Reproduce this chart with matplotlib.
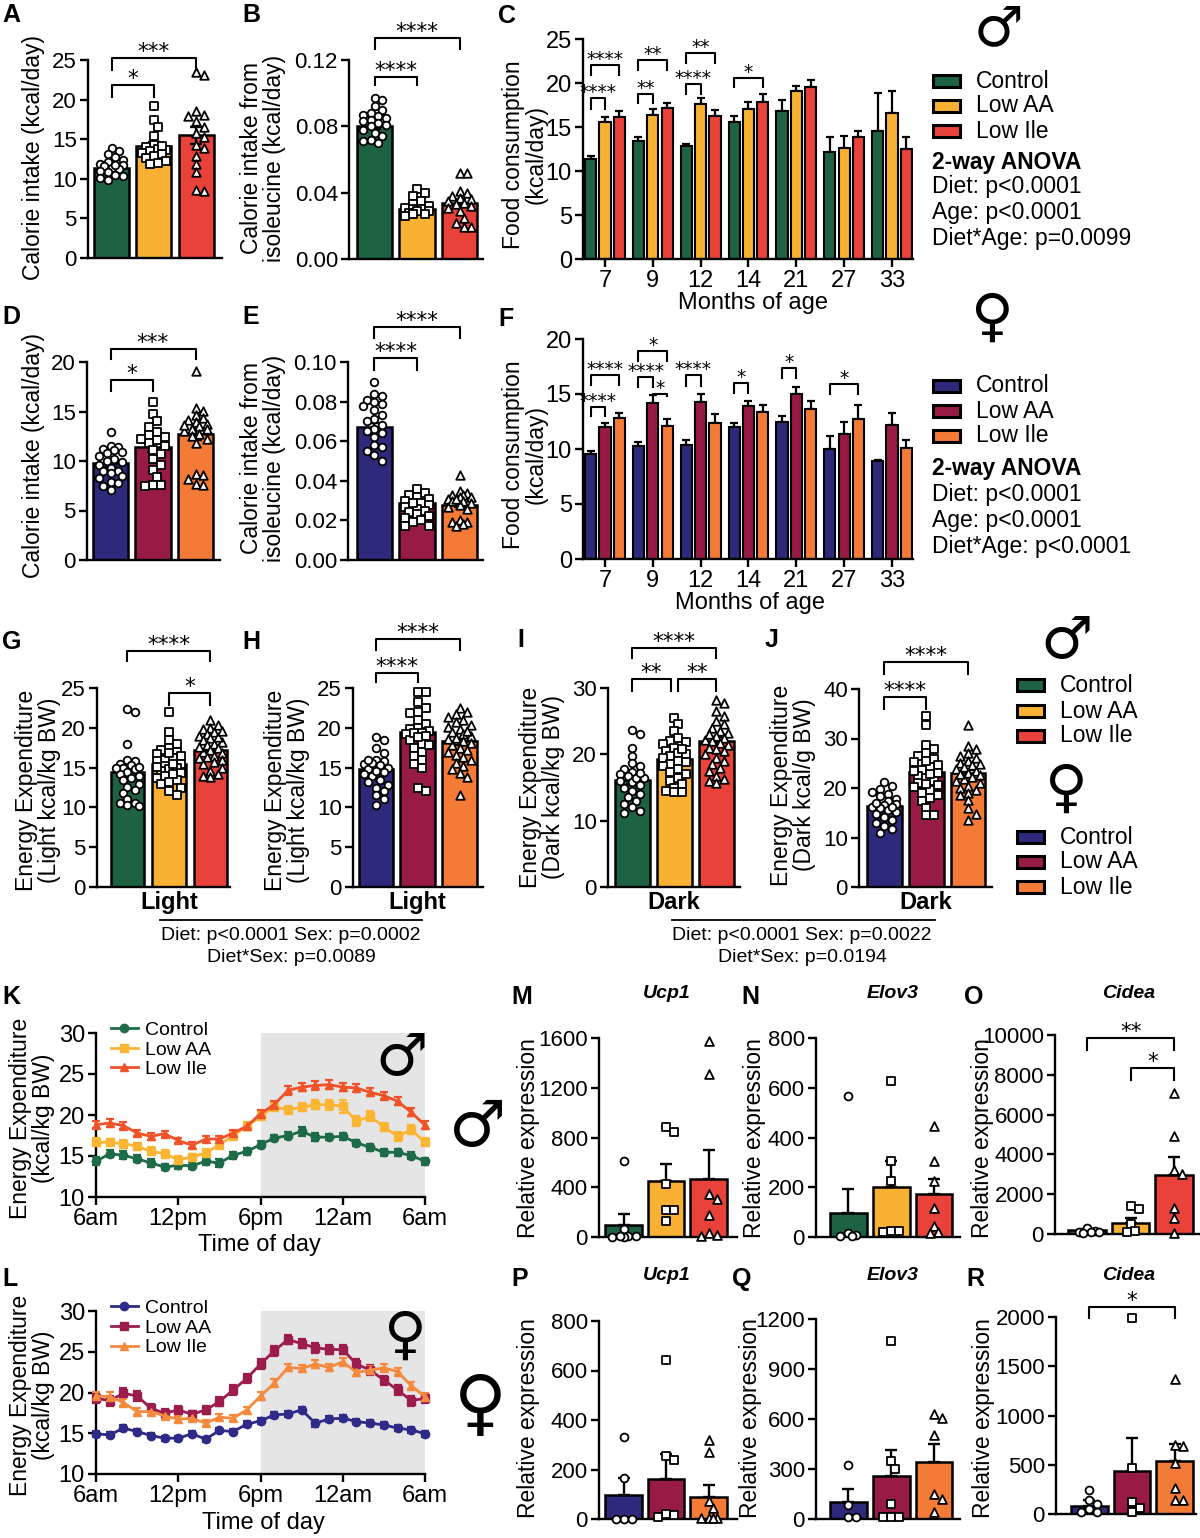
import numpy as np
import matplotlib
matplotlib.use('Agg')
import matplotlib.pyplot as plt
from matplotlib.lines import Line2D
from matplotlib.patches import Rectangle
import matplotlib.transforms as mtransforms

# ---------------- DATA ----------------
diets = ['Control', 'Low AA', 'Low Ile']
male_colors = ['#1D6341', '#F8B133', '#E8423A']
female_colors = ['#2D2A7B', '#981B45', '#F47B37']

# A: calorie intake, males
A_means = [11.4, 14.1, 15.5]
A_err = [0.35, 0.55, 1.1]
A_ctrl = [13.9, 13.5, 13.1, 12.7, 12.4, 12.1, 11.9, 11.7, 11.6, 11.4, 11.2, 11.0, 10.8, 10.5, 10.3, 10.1, 9.9, 11.8]
A_aa = [19.2, 17.4, 16.6, 15.4, 14.3, 14.0, 13.8, 13.6, 13.5, 13.3, 13.1, 12.9, 12.6, 12.3, 12.0, 11.9, 14.1]
A_ile = [23.5, 23.1, 18.6, 18.0, 17.9, 17.3, 16.6, 15.8, 15.3, 14.3, 13.9, 12.9, 11.9, 10.9, 8.6, 8.5]

# B: calorie intake from isoleucine, males
B_means = [0.080, 0.030, 0.034]
B_err = [0.0018, 0.001, 0.002]
B_ctrl = [0.097, 0.096, 0.092, 0.090, 0.088, 0.087, 0.086, 0.085, 0.084, 0.083, 0.082, 0.081, 0.080, 0.078, 0.076, 0.074, 0.072, 0.071, 0.070]
B_aa = [0.042, 0.040, 0.038, 0.035, 0.033, 0.032, 0.031, 0.030, 0.030, 0.029, 0.029, 0.028, 0.027, 0.027, 0.026]
B_ile = [0.052, 0.052, 0.041, 0.040, 0.038, 0.037, 0.036, 0.035, 0.034, 0.033, 0.032, 0.031, 0.029, 0.025, 0.022, 0.019, 0.019]

# C / F: food consumption by age
ages = ['7', '9', '12', '14', '21', '27', '33']
C_ctrl = [11.4, 13.4, 12.8, 15.6, 16.8, 12.2, 14.6]
C_ctrl_err = [0.3, 0.5, 0.3, 0.7, 1.3, 1.7, 4.3]
C_aa = [15.6, 16.4, 17.65, 17.0, 19.1, 12.65, 16.6]
C_aa_err = [0.5, 0.6, 0.65, 0.8, 0.6, 1.35, 2.5]
C_ile = [16.1, 17.2, 16.25, 17.8, 19.6, 13.9, 12.5]
C_ile_err = [0.7, 0.5, 0.65, 1.0, 0.7, 0.7, 1.4]

F_ctrl = [9.55, 10.24, 10.4, 11.97, 12.45, 10.0, 8.9]
F_ctrl_err = [0.3, 0.36, 0.45, 0.43, 0.55, 1.15, 0.13]
F_aa = [11.97, 14.2, 14.3, 13.9, 15.0, 11.4, 12.2]
F_aa_err = [0.43, 0.7, 0.7, 0.5, 0.6, 1.05, 1.1]
F_ile = [12.8, 12.1, 12.4, 13.4, 13.6, 12.75, 10.1]
F_ile_err = [0.5, 0.6, 0.8, 0.6, 0.8, 1.25, 0.7]

# D: calorie intake, females
D_means = [9.75, 11.4, 12.7]
D_err = [0.4, 0.5, 0.6]
D_ctrl = [12.9, 11.5, 11.4, 11.2, 11.1, 10.8, 10.5, 10.2, 10.0, 9.9, 9.6, 9.3, 9.0, 8.8, 8.5, 8.3, 7.9, 7.8, 7.5, 7.1, 9.0, 10.9]
D_aa = [16.0, 14.7, 14.0, 13.4, 12.9, 12.6, 12.4, 12.1, 11.8, 11.5, 11.1, 10.7, 10.2, 9.6, 9.1, 8.4, 7.6, 7.5, 7.6, 12.2]
D_ile = [19.1, 15.4, 15.1, 14.6, 14.3, 14.1, 13.9, 13.7, 13.5, 13.2, 13.0, 12.7, 12.5, 12.2, 11.8, 8.7, 8.6, 8.2, 7.7, 7.6, 13.6, 13.2]

# E: calorie intake from isoleucine, females
E_means = [0.0672, 0.029, 0.028]
E_err = [0.002, 0.0012, 0.001]
E_ctrl = [0.090, 0.084, 0.083, 0.081, 0.080, 0.079, 0.078, 0.076, 0.073, 0.071, 0.070, 0.068, 0.066, 0.065, 0.064, 0.062, 0.058, 0.057, 0.055, 0.053, 0.050]
E_aa = [0.036, 0.034, 0.033, 0.032, 0.031, 0.030, 0.029, 0.028, 0.027, 0.026, 0.025, 0.024, 0.023, 0.022, 0.021, 0.020, 0.019, 0.017, 0.017, 0.029]
E_ile = [0.043, 0.035, 0.034, 0.033, 0.033, 0.032, 0.032, 0.031, 0.030, 0.030, 0.029, 0.028, 0.027, 0.026, 0.020, 0.019, 0.019, 0.018, 0.017, 0.031]

# G-J: energy expenditure
G_means = [14.4, 15.5, 17.2]
G_err = [0.6, 0.4, 0.35]
G_ctrl = [22.3, 22.0, 18.0, 16.0, 15.8, 15.5, 15.3, 15.0, 14.8, 14.5, 14.2, 14.0, 13.7, 13.4, 13.0, 12.6, 12.2, 11.8, 11.0, 10.6, 10.5, 10.3, 10.2, 15.1, 14.9]
G_aa = [22.0, 19.5, 18.5, 18.0, 17.5, 17.2, 17.0, 16.7, 16.5, 16.2, 16.0, 15.8, 15.5, 15.2, 15.0, 14.8, 14.6, 14.3, 14.0, 13.7, 13.4, 13.0, 12.5, 12.0, 11.5, 15.4, 16.8, 15.1, 14.2, 13.2]
G_ile = [21.0, 20.4, 20.0, 19.8, 19.5, 19.2, 19.0, 18.7, 18.5, 18.2, 18.0, 17.8, 17.5, 17.2, 17.0, 16.8, 16.5, 16.2, 16.0, 15.7, 15.4, 15.0, 14.6, 14.2, 13.8, 14.0, 17.6, 18.8, 19.6, 16.3]

H_means = [14.8, 19.5, 18.3]
H_err = [0.45, 0.6, 0.45]
H_ctrl = [18.9, 18.5, 17.5, 16.8, 16.0, 15.8, 15.5, 15.3, 15.0, 14.8, 14.5, 14.2, 14.0, 13.5, 13.2, 12.8, 12.5, 12.0, 11.5, 11.0, 10.3, 15.6, 15.9, 14.6]
H_aa = [24.5, 24.5, 23.2, 22.5, 21.8, 21.0, 20.5, 20.0, 19.8, 19.6, 19.4, 19.2, 19.0, 18.5, 18.0, 17.5, 17.0, 16.5, 16.0, 15.5, 15.0, 12.5, 12.1, 19.3, 18.8, 17.8, 22.0]
H_ile = [22.5, 22.0, 21.7, 21.3, 21.0, 20.7, 20.4, 20.1, 19.8, 19.5, 19.2, 19.0, 18.7, 18.4, 18.1, 17.8, 17.5, 17.2, 16.9, 16.6, 16.3, 16.0, 15.6, 15.2, 14.8, 14.3, 13.8, 11.6, 19.6, 18.6]

I_means = [16.2, 19.3, 22.0]
I_err = [0.6, 0.5, 0.6]
I_ctrl = [23.6, 23.0, 21.0, 19.8, 18.7, 18.3, 17.8, 17.3, 17.0, 16.7, 16.4, 16.0, 15.8, 15.4, 15.0, 14.5, 14.0, 13.5, 13.0, 12.5, 12.0, 11.5, 11.2, 16.5, 17.2]
I_aa = [25.5, 24.5, 23.5, 22.5, 22.0, 21.8, 21.5, 21.0, 20.5, 20.2, 20.0, 19.7, 19.4, 19.0, 18.6, 18.2, 17.8, 17.4, 17.0, 16.5, 16.0, 15.5, 15.0, 14.5, 14.3, 14.3, 20.8, 18.9]
I_ile = [28.2, 27.8, 26.5, 25.8, 25.0, 24.5, 24.0, 23.5, 23.2, 22.8, 22.5, 22.2, 22.0, 21.7, 21.4, 21.0, 20.5, 20.0, 19.5, 19.0, 18.5, 18.0, 17.5, 16.8, 16.0, 15.7, 16.3, 23.0, 20.8]

J_means = [16.3, 23.2, 23.0]
J_err = [0.5, 0.8, 0.7]
J_ctrl = [21.2, 20.4, 19.8, 19.2, 18.8, 18.3, 17.8, 17.3, 16.8, 16.5, 16.2, 16.0, 15.6, 15.2, 14.7, 14.2, 13.6, 13.0, 12.4, 11.7, 11.0, 16.1, 17.0]
J_aa = [34.5, 32.7, 28.6, 27.8, 27.0, 26.4, 25.8, 25.2, 24.7, 24.2, 23.6, 23.0, 22.5, 22.0, 21.5, 21.0, 20.6, 20.2, 19.6, 19.0, 18.5, 18.0, 17.4, 16.0, 14.5, 14.5, 23.4, 25.4, 22.8, 20.8]
J_ile = [32.7, 28.5, 27.9, 27.0, 26.5, 26.0, 25.5, 25.0, 24.6, 24.2, 23.8, 23.4, 23.0, 22.6, 22.2, 21.8, 21.4, 21.0, 20.5, 20.0, 19.5, 19.0, 18.5, 17.5, 16.0, 14.8, 13.5, 24.8, 22.9]

# K / L: energy expenditure over time of day (hours after 6am)
hours = [0, 1, 2, 3, 4, 5, 6, 7, 8, 9, 10, 11, 12, 13, 14, 15, 16, 17, 18, 19, 20, 21, 22, 23, 24]
time_ticks = [0, 6, 12, 18, 24]
time_labels = ['6am', '12pm', '6pm', '12am', '6am']
K_ctrl = [14.35, 15.28, 15.08, 14.67, 14.15, 13.66, 13.86, 13.82, 14.35, 14.15, 15.08, 15.57, 16.38, 17.2, 17.48, 18.0, 17.3, 17.3, 17.4, 16.6, 16.06, 15.45, 15.45, 15.04, 14.35]
K_aa = [16.67, 16.67, 16.5, 16.18, 15.57, 15.28, 14.55, 14.88, 15.37, 16.38, 17.48, 18.62, 19.84, 20.98, 20.65, 20.93, 21.26, 21.26, 21.06, 19.23, 19.84, 18.54, 17.4, 18.2, 16.67]
K_ile = [18.82, 19.02, 18.7, 17.8, 17.4, 17.72, 16.9, 16.3, 17.07, 17.07, 17.8, 18.62, 20.16, 21.26, 23.0, 23.4, 23.6, 23.7, 23.4, 23.3, 22.76, 22.36, 21.67, 20.33, 18.74]
K_ctrl_err = [0.5, 0.4, 0.5, 0.45, 0.45, 0.4, 0.4, 0.45, 0.4, 0.45, 0.4, 0.4, 0.4, 0.4, 0.4, 0.5, 0.45, 0.4, 0.45, 0.4, 0.4, 0.4, 0.4, 0.4, 0.4]
K_aa_err = [0.5, 0.45, 0.45, 0.45, 0.5, 0.45, 0.45, 0.4, 0.45, 0.45, 0.5, 0.5, 0.5, 0.5, 0.45, 0.5, 0.55, 0.6, 0.8, 0.6, 0.6, 0.5, 0.55, 0.55, 0.5]
K_ile_err = [0.45, 0.45, 0.4, 0.4, 0.4, 0.35, 0.35, 0.35, 0.35, 0.35, 0.35, 0.4, 0.45, 0.5, 0.5, 0.5, 0.5, 0.55, 0.5, 0.5, 0.5, 0.45, 0.5, 0.5, 0.5]

L_ctrl = [14.93, 14.8, 15.62, 15.21, 14.72, 14.4, 14.4, 14.93, 14.28, 15.34, 15.21, 16.11, 16.52, 17.25, 17.37, 17.86, 16.23, 16.76, 16.84, 16.44, 16.23, 16.03, 15.62, 15.42, 14.93]
L_aa = [19.29, 19.0, 19.9, 19.57, 18.07, 17.45, 17.86, 17.33, 17.86, 18.88, 20.3, 21.73, 23.48, 25.1, 26.5, 26.0, 25.5, 25.27, 25.27, 23.48, 22.75, 21.53, 20.3, 19.0, 19.29]
L_ile = [19.57, 19.49, 18.76, 17.66, 17.66, 17.13, 16.72, 16.84, 16.23, 16.97, 16.84, 17.86, 19.57, 21.12, 23.08, 22.95, 23.48, 23.08, 23.77, 22.46, 22.75, 23.03, 22.55, 20.83, 19.49]
L_ctrl_err = [0.35, 0.3, 0.4, 0.3, 0.3, 0.3, 0.3, 0.3, 0.3, 0.3, 0.35, 0.35, 0.35, 0.35, 0.35, 0.3, 0.45, 0.35, 0.35, 0.35, 0.35, 0.35, 0.35, 0.35, 0.35]
L_aa_err = [0.6, 0.6, 0.6, 0.6, 0.5, 0.5, 0.5, 0.45, 0.5, 0.55, 0.6, 0.6, 0.6, 0.6, 0.6, 0.6, 0.6, 0.6, 0.6, 0.6, 0.6, 0.55, 0.6, 0.6, 0.55]
L_ile_err = [0.45, 0.6, 0.45, 0.4, 0.4, 0.35, 0.35, 0.35, 0.35, 0.35, 0.35, 0.4, 0.45, 0.5, 0.45, 0.45, 0.5, 0.45, 0.45, 0.45, 0.45, 0.45, 0.45, 0.45, 0.45]

# M-R: relative expression
M_means = [94, 448, 469]; M_err = [91, 142, 228]
M_ctrl = [608, 64, 10, 5, 3, 2, 8]
M_aa = [882, 844, 426, 220, 220, 126]
M_ile = [1573, 1313, 348, 305, 180, 30, 20, 10]
N_means = [96, 201, 173]; N_err = [97, 103, 60]
N_ctrl = [568, 15, 10, 5, 3]
N_aa = [626, 304, 224, 25, 25, 20]
N_ile = [445, 307, 224, 117, 46, 20, 15]
O_means = [180, 536, 2965]; O_err = [60, 284, 921]
O_ctrl = [280, 150, 120, 100, 80, 60]
O_aa = [1424, 1240, 500, 150, 100]
O_ile = [7100, 4925, 3216, 3000, 1290, 787, 50]
P_means = [95, 163, 87]; P_err = [70, 100, 49]
P_ctrl = [331, 165, 2, 2, 2]
P_aa = [643, 253, 239, 20, 10, 15]
P_ile = [320, 270, 71, 44, 5, 5, 5, 5]
Q_means = [102, 260, 340]; Q_err = [78, 152, 112]
Q_ctrl = [322, 86, 10, 10]
Q_aa = [1070, 346, 302, 92, 10, 10, 10]
Q_ile = [632, 606, 506, 150, 120, 40]
R_means = [84, 441, 540]; R_err = [54, 328, 168]
R_ctrl = [246, 140, 100, 50, 20, 20]
R_aa = [1993, 465, 121, 60, 20]
R_ile = [1375, 701, 690, 516, 263, 138, 138]

# ---------------- FIGURE ----------------
plt.rcParams['font.family'] = ['Liberation Sans', 'DejaVu Sans']
W, H = 1200, 1538
fig = plt.figure(figsize=(W / 100, H / 100), dpi=100)
TICK = 16
LAB = 16.5
STAR = 15.5


def add_ax(box):
    l, t, r, b = box
    return fig.add_axes([l / W, 1 - b / H, (r - l) / W, (b - t) / H])


def ftext(x, y, s, **kw):
    return fig.text(x / W, 1 - y / H, s, **kw)


def style(ax, fs=TICK):
    ax.spines['top'].set_visible(False)
    ax.spines['right'].set_visible(False)
    for s in ('left', 'bottom'):
        ax.spines[s].set_linewidth(1.7)
    ax.tick_params(width=1.7, length=6, labelsize=fs, pad=2, direction='out')
    ax.patch.set_alpha(0)


def bracket(ax, x1, x2, y, yb, s, fs=STAR):
    ax.plot([x1, x1, x2, x2], [yb, y, y, yb], color='black', lw=1.5,
            clip_on=False, zorder=6)
    ax.text((x1 + x2) / 2, y, s, ha='center', va='baseline', fontsize=fs,
            family='DejaVu Sans', clip_on=False)


def swarm_x(vals, xc, ppx, ppy, halfw, d):
    order = np.argsort(-np.asarray(vals), kind='stable')
    placed = []
    out = [0.0] * len(vals)
    step = d / 2
    n = max(int(halfw // step), 0)
    cands = [0.0]
    for k in range(1, n + 1):
        cands += [k * step, -k * step]
    for i in order:
        y = vals[i] * ppy
        chosen, best, bestd = None, 0.0, -1
        for c in cands:
            md = min([np.hypot(c - a, y - b) for a, b in placed], default=1e9)
            if md >= d * 0.92:
                chosen = c
                break
            if md > bestd:
                bestd, best = md, c
        if chosen is None:
            chosen = best
        placed.append((chosen, y))
        out[i] = xc + chosen / ppx
    return out


def bar_panel(box, xlim, ylim, yticks, means, errs, pts, colors, width=0.83,
              fmt=None, sym=True, msize=30, d=7.8):
    ax = add_ax(box)
    style(ax)
    l, t, r, b = box
    xs = np.arange(len(means))
    ax.bar(xs, means, width=width, color=colors, edgecolor='black', linewidth=1.8, zorder=2)
    yerr = errs if sym else [[0] * len(errs), errs]
    ax.errorbar(xs, means, yerr=yerr, fmt='none', ecolor='black', elinewidth=1.7,
                capsize=4, capthick=1.7, zorder=3)
    ppx = (r - l) / (xlim[1] - xlim[0])
    ppy = (b - t) / (ylim[1] - ylim[0])
    for i, (vals, m, sc) in enumerate(zip(pts, ['o', 's', '^'], [1.0, 0.9, 1.25])):
        xx = swarm_x(vals, i, ppx, ppy, width * ppx / 2 - 3, d)
        ax.scatter(xx, vals, marker=m, s=msize * sc, facecolor='white', edgecolor='black',
                   linewidths=1.3, zorder=5, clip_on=False)
    ax.set_xlim(*xlim)
    ax.set_ylim(*ylim)
    ax.set_yticks(yticks)
    if fmt:
        ax.set_yticklabels([fmt.format(v) for v in yticks])
    ax.set_xticks([])
    return ax


def grouped_panel(box, xlim, ylim, yticks, series, errs, colors):
    ax = add_ax(box)
    style(ax, 17)
    g = np.arange(len(ages))
    offs = [-0.3, 0.0, 0.3]
    for s, e, c, o in zip(series, errs, colors, offs):
        ax.bar(g + o, s, width=0.235, color=c, edgecolor='black', linewidth=1.5, zorder=2)
        ax.errorbar(g + o, s, yerr=[[0] * len(e), e], fmt='none', ecolor='black',
                    elinewidth=1.6, capsize=3.2, capthick=1.6, zorder=1)
    ax.set_xlim(*xlim)
    ax.set_ylim(*ylim)
    ax.set_yticks(yticks)
    ax.set_xticks(g)
    ax.set_xticklabels(ages)
    return ax


def time_panel(box, series, errs, colors, labels):
    ax = add_ax(box)
    style(ax, 17)
    ax.axvspan(12, 24, color='#E5E5E5', zorder=0, lw=0)
    handles = []
    for s, e, c, m, lab in zip(series, errs, colors, ['o', 's', '^'], labels):
        ax.errorbar(hours, s, yerr=e, color=c, marker=m, ms=6, lw=2.0, elinewidth=1.6,
                    capsize=3, capthick=1.6, zorder=3, clip_on=False)
        handles.append(Line2D([], [], color=c, marker=m, ms=6, lw=2.0))
    ax.set_xlim(0, 24)
    ax.set_ylim(10, 30)
    ax.set_yticks([10, 15, 20, 25, 30])
    ax.set_xticks(time_ticks)
    ax.set_xticklabels(time_labels)
    ax.legend(handles, labels, loc='upper left', bbox_to_anchor=(0.045, 1.07), frameon=False,
              fontsize=14, handlelength=1.4, handletextpad=0.35, labelspacing=0.1,
              borderpad=0, borderaxespad=0)
    return ax


def ylab(x, y, s, fs=LAB):
    ftext(x, y, s, rotation=90, ha='center', va='center', fontsize=fs,
          multialignment='center', linespacing=1.0)


def letter(x, y, s):
    ftext(x, y, s, ha='left', va='top', fontsize=18, fontweight='bold')


def legend_block(xp, xt, ys, colors, fs=16.5):
    for y, c, lab in zip(ys, colors, diets):
        fig.add_artist(Rectangle((xp / W, 1 - (y + 6) / H), 27 / W, 12 / H,
                                 transform=fig.transFigure, facecolor=c,
                                 edgecolor='black', lw=2.2))
        ftext(xt, y, lab, fontsize=fs, va='center', ha='left')


def symbol(x, y, s, size):
    ftext(x, y, s, fontsize=size, ha='center', va='center', family='DejaVu Sans',
          fontweight='bold')


# ---- A ----
ax = bar_panel((88, 60, 222, 258), (-0.556, 2.61), (0, 25), [0, 5, 10, 15, 20, 25],
               A_means, A_err, [A_ctrl, A_aa, A_ile], male_colors)
bracket(ax, 0, 1, 21.8, 20.3, '*')
bracket(ax, 0, 2, 25.25, 23.7, '***')
ylab(34, 157, 'Calorie intake (kcal/day)')
letter(2, 3, 'A')

# ---- B ----
ax = bar_panel((349, 60, 483, 259), (-0.6, 2.55), (0, 0.12), [0, 0.04, 0.08, 0.12],
               B_means, B_err, [B_ctrl, B_aa, B_ile], male_colors, fmt='{:.2f}')
bracket(ax, 0, 1, 0.110, 0.105, '****')
bracket(ax, 0, 2, 0.1335, 0.1264, '****')
ylab(263, 158, 'Calorie intake from\nisoleucine (kcal/day)')
letter(242, 3, 'B')

# ---- C ----
ax = grouped_panel((583, 39, 913, 259), (-0.46, 6.44), (0, 25), [0, 5, 10, 15, 20, 25],
                   [C_ctrl, C_aa, C_ile], [C_ctrl_err, C_aa_err, C_ile_err], male_colors)
for gi, i, j, y, yb, s in [(0, 0, 1, 18.3, 17.1, '****'), (0, 0, 2, 22.0, 20.9, '****'),
                           (1, 0, 1, 18.8, 17.7, '**'), (1, 0, 2, 22.6, 21.5, '**'),
                           (2, 0, 1, 19.9, 18.75, '****'), (2, 0, 2, 23.4, 22.3, '**'),
                           (3, 0, 2, 20.6, 19.5, '*')]:
    offs = [-0.3, 0.0, 0.3]
    bracket(ax, gi + offs[i], gi + offs[j], y, yb, s, fs=13.5)
ylab(525, 155, 'Food consumption\n(kcal/day)')
ftext(753, 303, 'Months of age', ha='center', va='center', fontsize=17)
letter(498, 4, 'C')

# legend C
symbol(998, 30, '\u2642', 40)
legend_block(933, 976, [81, 106, 131], male_colors)
ftext(932, 162, '2-way ANOVA', fontsize=16.5, fontweight='bold', va='center')
ftext(932, 187, 'Diet: p<0.0001', fontsize=16.5, va='center')
ftext(932, 213, 'Age: p<0.0001', fontsize=16.5, va='center')
ftext(932, 239, 'Diet*Age: p=0.0099', fontsize=16.5, va='center')

# ---- D ----
ax = bar_panel((87, 362, 220, 560), (-0.553, 2.576), (0, 20), [0, 5, 10, 15, 20],
               D_means, D_err, [D_ctrl, D_aa, D_ile], female_colors)
bracket(ax, 0, 1, 18.15, 17.1, '*')
bracket(ax, 0, 2, 21.3, 20.3, '***')
ylab(34, 456, 'Calorie intake (kcal/day)')
letter(2, 305, 'D')

# ---- E ----
ax = bar_panel((348, 362, 483, 560), (-0.62, 2.55), (0, 0.10), [0, 0.02, 0.04, 0.06, 0.08, 0.10],
               E_means, E_err, [E_ctrl, E_aa, E_ile], female_colors, fmt='{:.2f}')
bracket(ax, 0, 1, 0.102, 0.096, '****')
bracket(ax, 0, 2, 0.1176, 0.112, '****')
ylab(263, 458, 'Calorie intake from\nisoleucine (kcal/day)')
letter(242, 305, 'E')

# ---- F ----
ax = grouped_panel((583, 339, 913, 559), (-0.46, 6.44), (0, 20), [0, 5, 10, 15, 20],
                   [F_ctrl, F_aa, F_ile], [F_ctrl_err, F_aa_err, F_ile_err], female_colors)
for gi, i, j, y, yb, s in [(0, 0, 1, 13.8, 13.0, '****'), (0, 0, 2, 16.75, 15.85, '****'),
                           (1, 0, 1, 16.55, 15.6, '****'), (1, 1, 2, 15.0, 14.8, '*'),
                           (1, 0, 2, 18.9, 18.0, '*'), (2, 0, 1, 16.7, 15.75, '****'),
                           (3, 0, 1, 16.0, 15.1, '*'), (4, 0, 1, 17.4, 16.5, '*'),
                           (5, 0, 2, 15.9, 15.0, '*')]:
    offs = [-0.3, 0.0, 0.3]
    bracket(ax, gi + offs[i], gi + offs[j], y, yb, s, fs=13.5)
ylab(525, 455, 'Food consumption\n(kcal/day)')
ftext(750, 603, 'Months of age', ha='center', va='center', fontsize=17)
letter(498, 307, 'F')

symbol(992, 318, '\u2640', 42)
legend_block(933, 976, [386, 411, 436], female_colors)
ftext(932, 468, '2-way ANOVA', fontsize=16.5, fontweight='bold', va='center')
ftext(932, 494, 'Diet: p<0.0001', fontsize=16.5, va='center')
ftext(932, 520, 'Age: p<0.0001', fontsize=16.5, va='center')
ftext(932, 546, 'Diet*Age: p<0.0001', fontsize=16.5, va='center')

# ---- G-J ----
def set_period(ax, s):
    ax.set_xticks([1])
    ax.set_xticklabels([s], fontweight='bold', fontsize=17)
    ax.tick_params(axis='x', length=0, pad=3)

ax = bar_panel((97, 688, 230, 887), (-0.73, 2.47), (0, 25), [0, 5, 10, 15, 20, 25],
               G_means, G_err, [G_ctrl, G_aa, G_ile], male_colors, width=0.8)
set_period(ax, 'Light')
bracket(ax, 1, 2, 24.4, 22.9, '*')
bracket(ax, 0, 2, 29.7, 28.4, '****')
ylab(38, 790, 'Energy Expenditure\n(Light kcal/kg BW)')
letter(2, 630, 'G')

ax = bar_panel((353, 688, 483, 887), (-0.55, 2.56), (0, 25), [0, 5, 10, 15, 20, 25],
               H_means, H_err, [H_ctrl, H_aa, H_ile], female_colors)
set_period(ax, 'Light')
bracket(ax, 0, 1, 26.9, 25.7, '****')
bracket(ax, 0, 2, 31.2, 29.8, '****')
ylab(287, 790, 'Energy Expenditure\n(Light kcal/kg BW)')
letter(242, 630, 'H')

ax = bar_panel((608, 688, 740, 887), (-0.57, 2.56), (0, 30), [0, 10, 20, 30],
               I_means, I_err, [I_ctrl, I_aa, I_ile], male_colors)
set_period(ax, 'Dark')
bracket(ax, 0, 0.92, 31.4, 29.6, '**')
bracket(ax, 1.08, 2, 31.4, 29.6, '**')
bracket(ax, 0, 2, 36.1, 34.5, '****')
ylab(542, 787, 'Energy Expenditure\n(Dark kcal/kg BW)')
letter(517, 628, 'I')

ax = bar_panel((859, 689, 992, 887), (-0.6, 2.57), (0, 40), [0, 10, 20, 30, 40],
               J_means, J_err, [J_ctrl, J_aa, J_ile], female_colors)
set_period(ax, 'Dark')
bracket(ax, 0, 1, 38.4, 36.0, '****')
bracket(ax, 0, 2, 45.5, 43.1, '****')
ylab(793, 785, 'Energy Expenditure\n(Dark kcal/g BW)')
letter(765, 628, 'J')

fig.add_artist(Line2D([160 / W, 422 / W], [1 - 920 / H] * 2, color='black', lw=1.3))
ftext(291, 936, 'Diet: p<0.0001 Sex: p=0.0002', ha='center', va='center', fontsize=14)
ftext(291, 957, 'Diet*Sex: p=0.0089', ha='center', va='center', fontsize=14)
fig.add_artist(Line2D([672 / W, 935 / W], [1 - 920 / H] * 2, color='black', lw=1.3))
ftext(802, 936, 'Diet: p<0.0001 Sex: p=0.0022', ha='center', va='center', fontsize=14)
ftext(802, 957, 'Diet*Sex: p=0.0194', ha='center', va='center', fontsize=14)

symbol(1067, 641, '\u2642', 42)
legend_block(1017, 1060, [685, 711, 736], male_colors)
symbol(1066, 789, '\u2640', 42)
legend_block(1017, 1060, [837, 862, 887], female_colors)

# ---- K / L ----
ax = time_panel((96, 1033, 425, 1197), [K_ctrl, K_aa, K_ile], [K_ctrl_err, K_aa_err, K_ile_err],
                ['#1D6B47', '#FBB535', '#F0522A'], diets)
ylab(32, 1118, 'Energy Expenditure\n(kcal/kg BW)')
ftext(259, 1245, 'Time of day', ha='center', va='center', fontsize=17)
letter(2, 985, 'K')
symbol(402, 1058, '\u2642', 42)
symbol(478, 1128, '\u2642', 46)

ax = time_panel((96, 1311, 425, 1474), [L_ctrl, L_aa, L_ile], [L_ctrl_err, L_aa_err, L_ile_err],
                ['#2E2A87', '#9C1C4E', '#F5893E'], diets)
ylab(32, 1395, 'Energy Expenditure\n(kcal/kg BW)')
ftext(263, 1523, 'Time of day', ha='center', va='center', fontsize=17)
letter(2, 1267, 'L')
symbol(405, 1336, '\u2640', 42)
symbol(480, 1407, '\u2640', 52)

# ---- M-R ----
def expr_panel(box, xlim, ylim, yticks, means, errs, pts, colors):
    ax = bar_panel(box, xlim, ylim, yticks, means, errs, pts, colors, width=0.86,
                   sym=False, msize=32, d=8)
    return ax

ax = expr_panel((599, 1038, 737, 1237), (-0.58, 2.67), (0, 1600), [0, 400, 800, 1200, 1600],
                M_means, M_err, [M_ctrl, M_aa, M_ile], male_colors)
ylab(529, 1138, 'Relative expression')
letter(511, 985, 'M')
ftext(667, 994, 'Ucp1', ha='center', va='center', fontsize=14, fontweight='bold', style='italic')

ax = expr_panel((816, 1038, 960, 1237), (-0.76, 2.61), (0, 800), [0, 200, 400, 600, 800],
                N_means, N_err, [N_ctrl, N_aa, N_ile], male_colors)
ylab(755, 1138, 'Relative expression')
letter(741, 985, 'N')
ftext(893, 994, 'Elov3', ha='center', va='center', fontsize=14, fontweight='bold', style='italic')

ax = expr_panel((1055, 1035, 1199, 1234), (-0.74, 2.57), (0, 10000), [0, 2000, 4000, 6000, 8000, 10000],
                O_means, O_err, [O_ctrl, O_aa, O_ile], male_colors)
bracket(ax, 1, 2, 8325, 7740, '*')
bracket(ax, 0, 2, 9833, 9246, '**')
ylab(982, 1138, 'Relative expression')
letter(964, 985, 'O')
ftext(1129, 994, 'Cidea', ha='center', va='center', fontsize=14, fontweight='bold', style='italic')

ax = expr_panel((599, 1321, 737, 1519), (-0.58, 2.67), (0, 800), [0, 200, 400, 600, 800],
                P_means, P_err, [P_ctrl, P_aa, P_ile], female_colors)
ylab(529, 1418, 'Relative expression')
letter(511, 1267, 'P')
ftext(667, 1275, 'Ucp1', ha='center', va='center', fontsize=14, fontweight='bold', style='italic')

ax = expr_panel((816, 1319, 960, 1519), (-0.76, 2.61), (0, 1200), [0, 300, 600, 900, 1200],
                Q_means, Q_err, [Q_ctrl, Q_aa, Q_ile], female_colors)
ylab(750, 1418, 'Relative expression')
letter(732, 1267, 'Q')
ftext(893, 1275, 'Elov3', ha='center', va='center', fontsize=14, fontweight='bold', style='italic')

ax = expr_panel((1056, 1317, 1196, 1514), (-0.77, 2.49), (0, 2000), [0, 500, 1000, 1500, 2000],
                R_means, R_err, [R_ctrl, R_aa, R_ile], female_colors)
bracket(ax, 0, 2, 2100, 1989, '*')
ylab(984, 1418, 'Relative expression')
letter(966, 1267, 'R')
ftext(1129, 1275, 'Cidea', ha='center', va='center', fontsize=14, fontweight='bold', style='italic')

fig.savefig('out.png', dpi=100, facecolor='white')
